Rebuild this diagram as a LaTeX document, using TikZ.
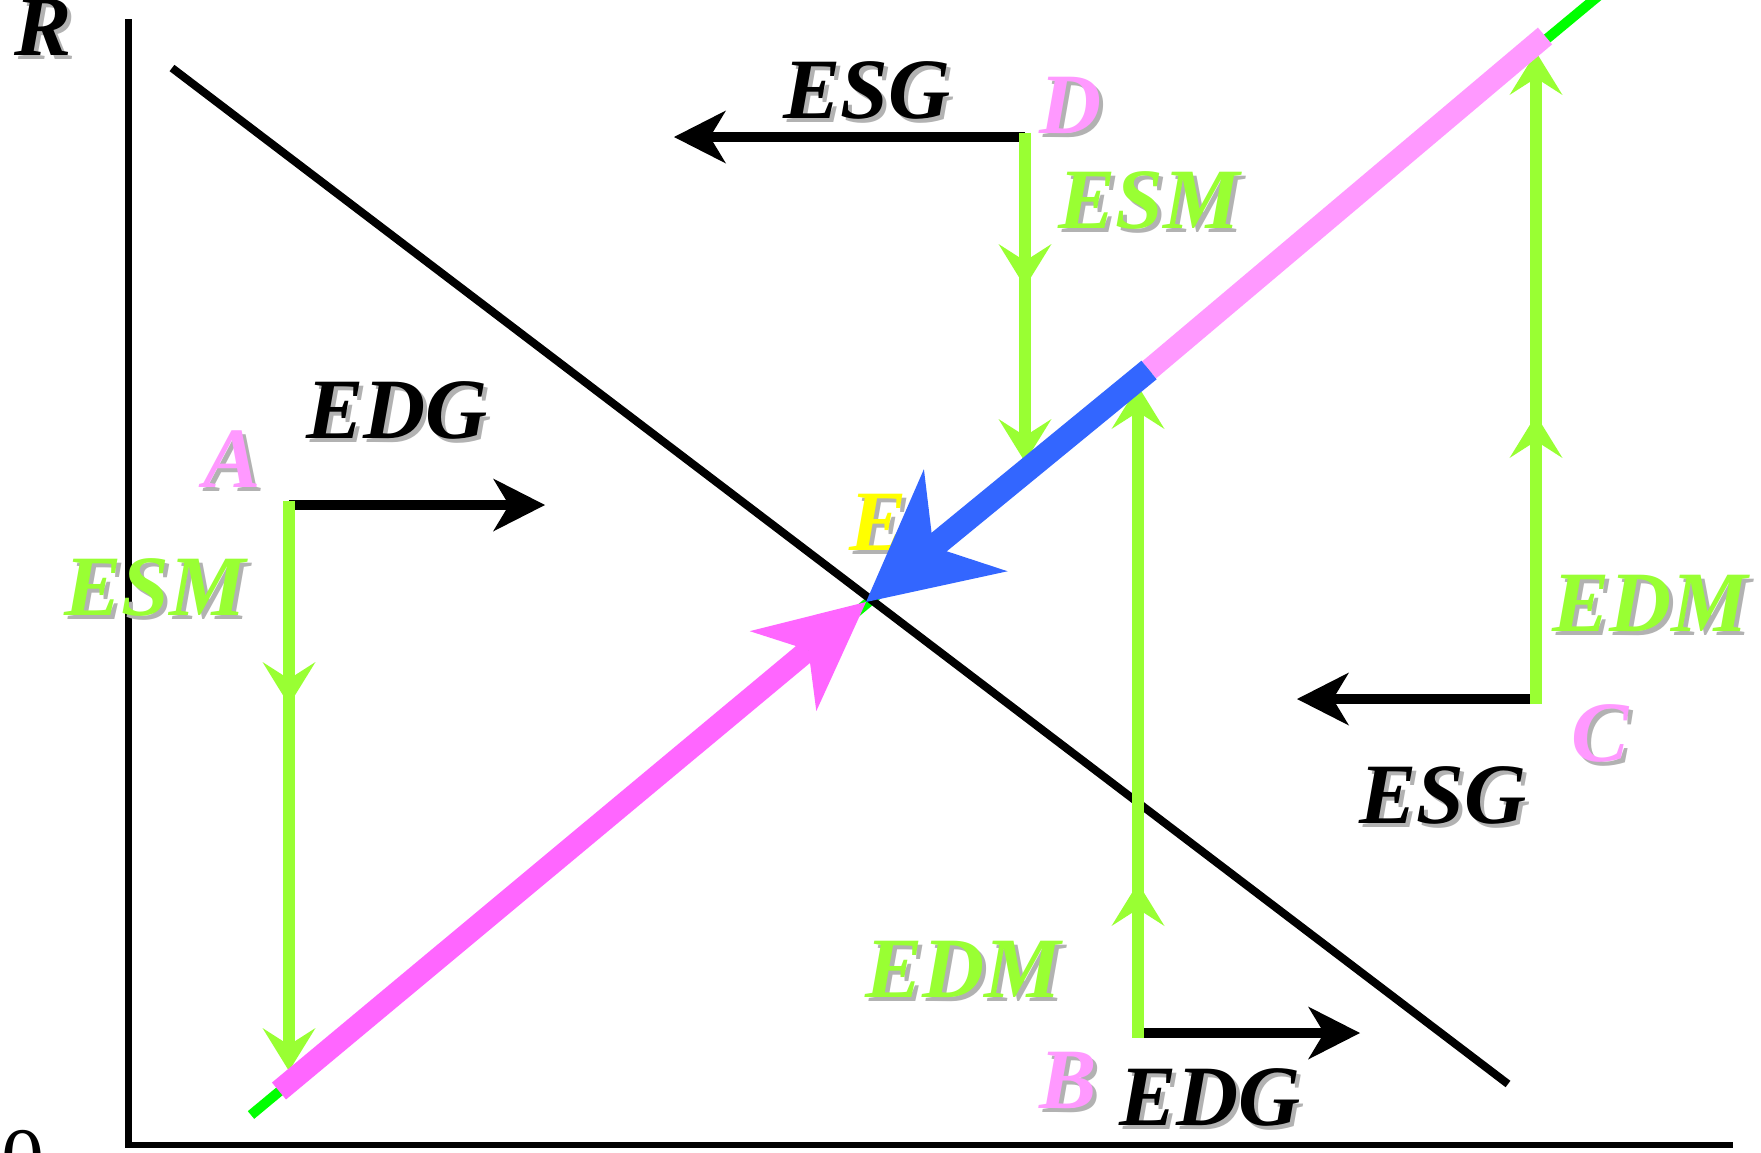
\documentclass[tikz,border=0pt]{standalone}
\usepackage{fontspec}
\setmainfont{Liberation Serif}
\usetikzlibrary{arrows.meta}
\definecolor{lpink}{HTML}{FF99FF}
\definecolor{mag}{HTML}{FF66FF}
\definecolor{lime}{HTML}{99FF33}
\definecolor{sgreen}{HTML}{00FF00}
\definecolor{eblue}{HTML}{3366FF}
\definecolor{shad}{HTML}{B2B2B2}
\definecolor{eyellow}{HTML}{FFFF00}
\tikzset{
  lbl/.style={font=\fontsize{43}{50}\selectfont\bfseries\itshape, inner sep=0pt, anchor=base},
  shd/.style={lbl, text=shad, xshift=2pt, yshift=-2pt},
  axis/.style={line width=3.25pt, line cap=rect},
  barr/.style={draw=black, line width=4.75pt, -{Stealth[length=26pt,width=26.5pt,inset=8pt,line width=0pt]}},
  garr/.style={draw=lime, line width=5.75pt, -{Stealth[length=21.5pt,width=26.5pt,inset=8.5pt,line width=0pt]}},
  gline/.style={draw=lime, line width=5.75pt},
  thick band/.style={line width=11pt},
}
\newcommand\slabel[4]{%
  \node[shd] (#1s) at (#2) {#4};
  \node[lbl, text=#3] (#1) at (#2) {#4};}
\begin{document}
\begin{tikzpicture}[x=0.5pt, y=-0.5pt]
  \useasboundingbox (0,0) rectangle (1761,1152);
  \clip (0,0) rectangle (1761,1152);
  % key points
  \coordinate (O) at (128.5,1145);
  \coordinate (Ytop) at (128.5,22);
  \coordinate (Xend) at (1730,1145);
  \coordinate (E) at (866,602);
  \coordinate (Sbot) at (251,1115);
  \coordinate (Stop) at (1620,-22);
  \coordinate (Dd1) at (172,68);
  \coordinate (Dd2) at (1508,1084);
  \coordinate (Mst) at (279,1091);
  \coordinate (Pb) at (1149,370);
  \coordinate (Pt) at (1545,36);
  % axes
  \draw[axis] (Ytop) -- (O) -- (Xend);
  \node[font=\fontsize{43}{50}\selectfont, inner sep=0pt, anchor=base] (zero) at (23,1187) {0};
  % supply (thin green) and demand lines
  \draw[sgreen, line width=5pt] (Sbot) -- (Stop);
  \draw[black, line width=4pt] (Dd1) -- (Dd2);
  % point coordinates
  \coordinate (pA) at (289,505);
  \coordinate (pAe) at (545,505);
  \coordinate (pAg) at (289,500.5);
  \coordinate (pAm) at (289,705);
  \coordinate (pAn) at (289,680);
  \coordinate (pAb) at (289,1071);
  \coordinate (pD) at (1025,137);
  \coordinate (pDe) at (674,137);
  \coordinate (pDg) at (1025,132.5);
  \coordinate (pDm) at (1025,287);
  \coordinate (pDn) at (1025,262);
  \coordinate (pDb) at (1025,462);
  \coordinate (pB) at (1138,1033);
  \coordinate (pBe) at (1360,1033);
  \coordinate (pBg) at (1138,1037.5);
  \coordinate (pBm) at (1138,883);
  \coordinate (pBn) at (1138,908);
  \coordinate (pBb) at (1138,386);
  \coordinate (pC) at (1536,699);
  \coordinate (pCe) at (1297,699);
  \coordinate (pCg) at (1536,703.5);
  \coordinate (pCm) at (1536,415);
  \coordinate (pCn) at (1536,440);
  \coordinate (pCb) at (1536,52);
  % black horizontal arrows
  \draw[barr] (pA) -- (pAe);
  \draw[barr] (pD) -- (pDe);
  \draw[barr] (pB) -- (pBe);
  \draw[barr] (pC) -- (pCe);
  % green vertical arrows (mid arrowhead + end arrowhead)
  \draw[garr] (pAg) -- (pAm);
  \draw[garr] (pAn) -- (pAb);
  \draw[garr] (pDg) -- (pDm);
  \draw[garr] (pDn) -- (pDb);
  \draw[garr] (pBg) -- (pBm);
  \draw[garr] (pBn) -- (pBb);
  \draw[garr] (pCg) -- (pCm);
  \draw[garr] (pCn) -- (pCb);
  % labels
  \slabel{lR}{43,55}{black}{R}
  \slabel{lEDGt}{397,438}{black}{EDG}
  \slabel{lA}{232,487}{lpink}{A}
  \slabel{lESMl}{155,615}{lime}{ESM}
  \slabel{lESGt}{867,118}{black}{ESG}
  \slabel{lD}{1071,133}{lpink}{D}
  \slabel{lESMr}{1149,228}{lime}{ESM}
  \slabel{lE}{878,550}{eyellow}{E}
  \slabel{lEDMr}{1650,631}{lime}{EDM}
  \slabel{lC}{1600,761}{lpink}{C}
  \slabel{lESGb}{1443,823}{black}{ESG}
  \slabel{lEDMb}{963,997}{lime}{EDM}
  \slabel{lB}{1068,1108}{lpink}{B}
  \slabel{lEDGb}{1210,1125}{black}{EDG}
  % thick bands
  \draw[mag, thick band, -{Stealth[length=54pt,width=52pt,inset=16.5pt,line width=0pt]}] (Mst) -- (E);
  \draw[lpink, thick band] (Pb) -- (Pt);
  \draw[eblue, line width=12pt, -{Stealth[length=64.5pt,width=66pt,inset=21pt,line width=0pt]}] (Pb) -- (E);
\end{tikzpicture}
\end{document}
